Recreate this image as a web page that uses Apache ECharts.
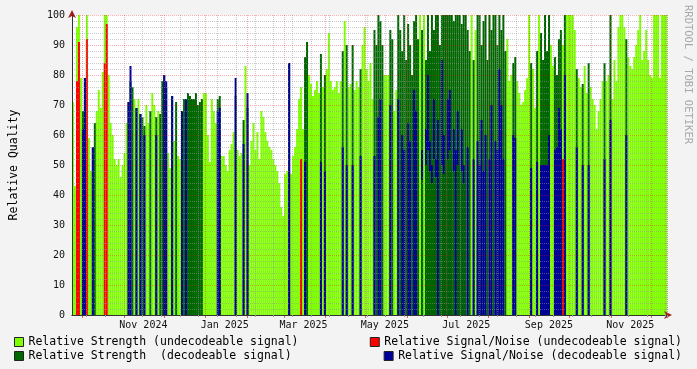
<!DOCTYPE html>
<html><head><meta charset="utf-8">
<script src="https://cdn.jsdelivr.net/npm/echarts@6/dist/echarts.min.js"></script>
<style>html,body{margin:0;padding:0;background:#f3f3f3}#c{width:697px;height:369px}</style>
</head><body><div id="c"></div><script>
const _ = null;
// time span of the plot (one category per day)
const startDate = '2024-09-23';
const dayCount = 446;
// x tick labels (centred mid-month) and minor grid anchor
const labelDates = ['2024-11-15','2025-01-15','2025-03-15','2025-05-15','2025-07-15','2025-09-15','2025-11-15'];
const labelTexts = ['Nov 2024','Jan 2025','Mar 2025','May 2025','Jul 2025','Sep 2025','Nov 2025'];
const minorAnchor = '2024-10-04';
const minorStepDays = 14;
const yTicks = [0,10,20,30,40,50,60,70,80,90,100];

// per 2-pixel bucket (300 buckets): U = undecodeable, D = decodeable
const kinds = ("UUUUUDDUUU"+"DDUUUUUUUU"+"UUUUUUUUDD"+"DUDUDDDUUD"+"UUDUDDDDUU"+"DUDUUDDDDD"+"DDDDDDUUUU"+"UUUDDUUUUU"+"UUDUUUDUDU"+"UUUUUUUUUU"+
  "UUUUUUUUUD"+"UUUUUUUDDU"+"UUUUUDUDUU"+"UUUUUUDUDU"+"UDUUUDUUUU"+"UUDDDDDUUU"+"DDUUDDDDDD"+"DDDDDUDUDD"+"DDDDDDDDDD"+"DDDDDDDDDD"+
  "DUDUDDDDDD"+"DDDDDDDDDU"+"UUDDUUUUUU"+"UDUUDUDDDD"+"DUUDDDDUDU"+"UUUUDUUDUU"+"DUUUUUUUDU"+"UDUUUUUUUD"+"UUUUUUUUUU"+"UUUUUUUUUU").split('');
const strength = [
 71,43,96,100,79,68,79,100,59,48, 56,64,68,75,69,81,100,100,80,64,
 60,52,50,52,46,50,54,64,71,78, 76,72,69,72,67,66,63,70,64,68,
 74,70,66,68,67,78,80,76,54,49, 73,58,71,53,52,68,72,70,74,73,
 72,72,74,70,71,72,74,74,60,51, 72,68,64,72,73,53,53,50,48,55,
 57,61,73,55,53,54,65,83,69,50, 58,64,55,61,52,68,66,61,58,56,
 55,52,50,48,44,36,33,47,48,84, 47,53,56,62,72,76,62,86,91,80,
 77,73,75,78,74,87,76,80,82,94, 78,75,76,78,74,78,88,98,90,76,
 77,90,75,78,76,82,90,96,82,78, 84,72,95,90,100,98,90,80,80,80,
 95,92,68,75,100,95,88,100,85,97, 90,80,98,100,92,100,95,100,85,100,
 88,100,95,100,100,90,100,100,100,100, 100,100,98,100,100,100,97,100,100,95,
 88,100,85,95,100,100,90,98,100,85, 100,95,100,100,90,100,95,100,88,92,
 78,80,84,86,78,74,70,71,75,79, 100,84,82,69,88,100,94,85,100,88,
 100,90,83,86,80,92,95,90,100,100, 100,100,100,95,82,79,76,77,83,74,
 84,76,72,70,62,68,72,78,84,78, 80,100,72,85,78,96,100,100,96,92,
 86,83,82,86,90,95,100,85,88,95, 85,80,79,100,100,100,79,100,100,100];
const snr = [
 _,_,78,91,_,62,79,92,_,_, 56,_,_,_,_,_,84,97,_,_,
 _,_,_,_,_,_,_,_,71,83, _,_,69,_,67,_,60,_,_,_,
 _,_,60,_,_,_,80,78,_,_, 73,_,_,_,_,68,_,72,_,_,
 _,_,_,_,_,_,_,_,_,_, _,_,_,68,69,_,_,_,_,_,
 _,_,79,_,_,_,57,_,74,_, _,_,_,_,_,_,_,_,_,_,
 _,_,_,_,_,_,_,_,_,84, _,_,_,_,_,52,_,51,_,_,
 _,_,_,_,_,51,_,48,_,_, _,_,_,_,_,_,56,_,50,_,
 _,50,_,_,_,53,_,_,_,_, _,_,53,_,66,72,_,_,_,_,
 70,_,_,_,72,_,60,55,_,64, 58,_,75,68,_,_,55,_,62,80,
 58,50,72,52,65,_,85,60,_,72, 75,_,62,55,68,_,62,50,_,56,
 _,_,52,_,58,50,65,48,60,_, 52,70,_,58,55,82,70,52,_,_,
 _,_,60,59,_,_,_,_,_,_, _,49,_,_,51,_,50,50,50,50,
 60,_,_,55,56,69,62,52,80,_, _,_,_,_,56,_,_,50,_,_,
 50,_,_,_,_,_,_,_,52,_, _,65,_,_,_,_,_,_,_,60,
 _,_,_,_,_,_,_,_,_,_, _,_,_,_,_,_,_,_,_,_];
// decodeable strength floor drawn over the S/N band
const floorIdx = [176,178,179,180,181,182,183,186,187,189,190,192,194,196,197];
const floorVal = [45,50,55,48,44,52,46,50,47,52,55,48,50,48,44];

const names = ['Relative Strength (undecodeable signal)','Relative Strength  (decodeable signal)',
  'Relative Signal/Noise (undecodeable signal)','Relative Signal/Noise (decodeable signal)'];
const colors = ['#7fff00','#006600','#ff0000','#000099'];

// build tables
const days = [];
const t0 = Date.parse(startDate);
for (let i=0;i<dayCount;i++){ days.push(new Date(t0+i*86400000).toISOString().slice(0,10)); }
const a0 = Date.parse(minorAnchor);
const isMinor = (i,v)=>{ const d=Math.round((Date.parse(v)-a0)/86400000); return ((d%minorStepDays)+minorStepDays)%minorStepDays===0 && v.slice(8)!=='01'; };
const isMajor = (i,v)=> v.slice(8)==='01';
const buckets = strength.map((_v,i)=>String(i));
const uStr = strength.map((v,i)=> kinds[i]==='U'? v : '-');
const dStr = strength.map((v,i)=> kinds[i]==='D'? v : '-');
const uSnr = snr.map((v,i)=> (kinds[i]==='U' && v!==null)? v : '-');
const dSnr = snr.map((v,i)=> (kinds[i]==='D' && v!==null)? v : '-');
const dFloor = strength.map(()=>'-'); floorIdx.forEach((k,j)=>{ dFloor[k]=floorVal[j]; });

const mono = 'DejaVu Sans Mono';
const bar = (name,color,data)=>({type:'bar',name,xAxisIndex:2,yAxisIndex:0,data,barWidth:'100%',barGap:'-100%',barCategoryGap:'0%',
  itemStyle:{color},silent:true,animation:false});
const legendItem = (name,pos)=>Object.assign({data:[name],icon:'rect',itemWidth:9,itemHeight:9,padding:0,selectedMode:false,
  itemStyle:{borderColor:'#222',borderWidth:1},textStyle:{fontFamily:mono,fontSize:11.5,color:'#000'}},pos);

const chart = echarts.init(document.getElementById('c'),null,{renderer:'canvas'});
chart.setOption({
  backgroundColor:'#f3f3f3',
  animation:false,
  grid:{left:67,top:15,width:600,height:300,show:true,backgroundColor:'#ffffff',borderWidth:0},
  xAxis:[
    {type:'category',data:days,position:'bottom',boundaryGap:true,z:4,
     axisLine:{show:true,lineStyle:{color:'#a02020',width:1},symbol:['none','arrow'],symbolSize:[6,8],symbolOffset:[0,5]},
     axisTick:{show:true,interval:isMajor,length:3,lineStyle:{color:'#e06060'}},
     axisLabel:{show:true,interval:(i,v)=>labelDates.indexOf(v)>=0,formatter:(v)=>labelTexts[labelDates.indexOf(v)],
       fontFamily:mono,fontSize:10,color:'#111',margin:5},
     splitLine:{show:true,interval:isMajor,lineStyle:{color:'rgba(255,0,0,0.32)',type:[1,1]}}},
    {type:'category',data:days,position:'bottom',boundaryGap:true,z:5,
     axisLine:{show:true,lineStyle:{color:'#333',width:1}},
     axisTick:{show:true,interval:isMinor,length:2,lineStyle:{color:'#999'}},
     axisLabel:{show:false},
     splitLine:{show:true,interval:isMinor,lineStyle:{color:'rgba(150,150,150,0.5)',type:[1,1]}}},
    {type:'category',data:buckets,position:'bottom',show:false}
  ],
  yAxis:[
    {type:'value',min:yTicks[0],max:yTicks[yTicks.length-1],interval:10,position:'left',z:5,
     name:'Relative Quality',nameLocation:'middle',nameGap:52,nameRotate:90,
     nameTextStyle:{fontFamily:mono,fontSize:11.5,color:'#000'},
     axisLine:{show:true,lineStyle:{color:'#333'}},
     axisTick:{show:false},
     axisLabel:{fontFamily:mono,fontSize:10,color:'#111',margin:7},
     splitLine:{show:true,lineStyle:{color:'rgba(255,0,0,0.32)',type:[1,1]}},
     minorTick:{show:false,splitNumber:5},
     minorSplitLine:{show:true,lineStyle:{color:'rgba(150,150,150,0.5)',type:[1,1]}}},
    {type:'value',min:0,max:100,position:'left',z:4,
     axisLine:{show:true,lineStyle:{color:'#a02020'},symbol:['none','arrow'],symbolSize:[6,8],symbolOffset:[0,5]},
     axisTick:{show:false},axisLabel:{show:false},splitLine:{show:false}}
  ],
  legend:[
    legendItem(names[0],{left:14,top:336}),
    legendItem(names[1],{left:14,top:350}),
    legendItem(names[2],{right:15,top:336}),
    legendItem(names[3],{right:15,top:350})
  ],
  graphic:[
    {type:'text',x:688,y:5,rotation:-Math.PI/2,silent:true,
     style:{text:'RRDTOOL / TOBI OETIKER',fill:'#a8a8a8',font:'10.5px "DejaVu Sans Mono"',textAlign:'left',textVerticalAlign:'middle'}}
  ],
  series:[
    bar(names[0],colors[0],uStr),
    bar(names[1],colors[1],dStr),
    bar(names[2],colors[2],uSnr),
    bar(names[3],colors[3],dSnr),
    bar(names[1],colors[1],dFloor)
  ]
});
</script></body></html>
